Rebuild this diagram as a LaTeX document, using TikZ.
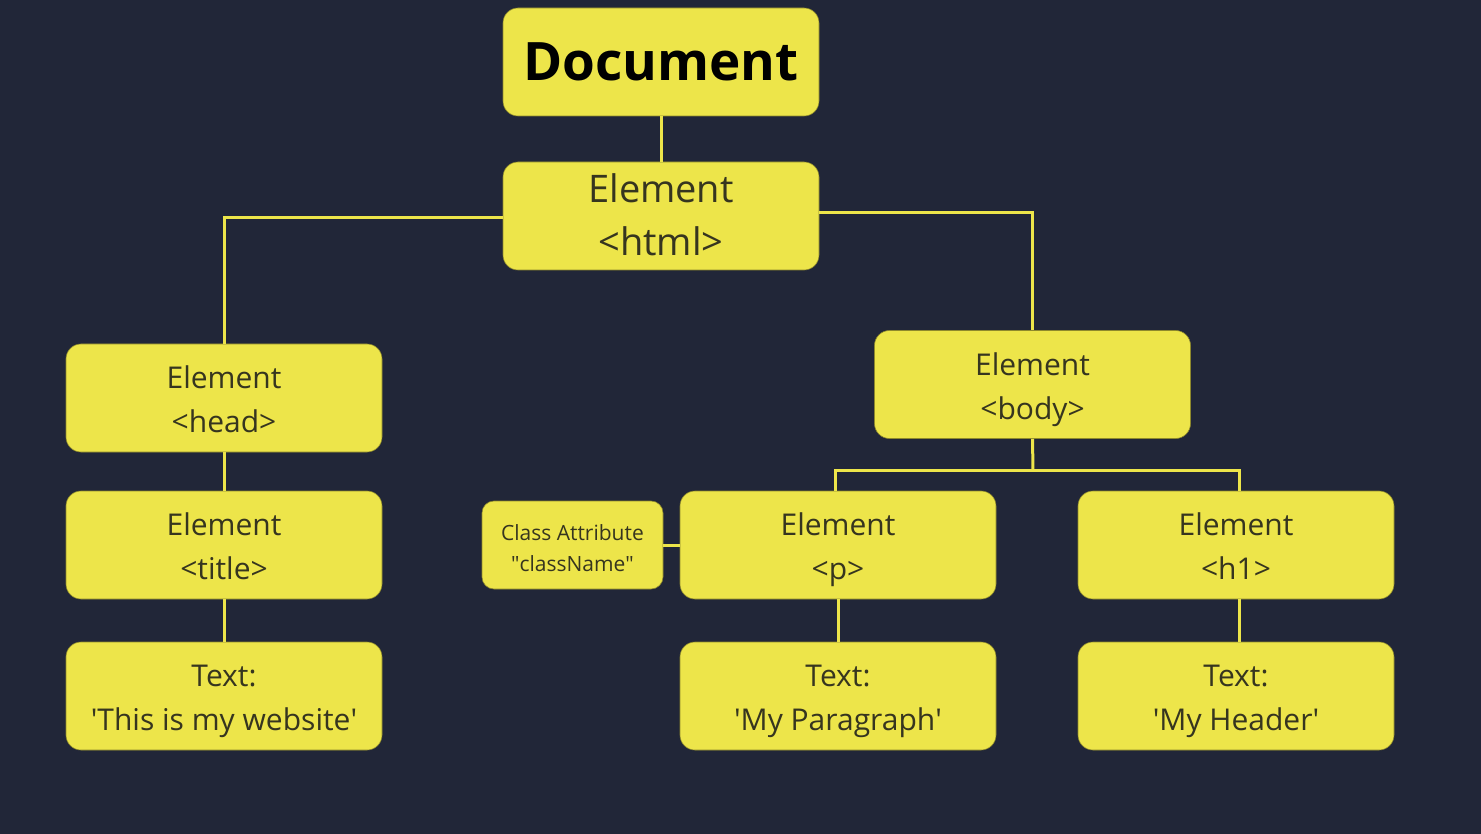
\documentclass[tikz,border=0pt]{standalone}
\usepackage{fontspec}
\setmainfont{Open Sans}
\definecolor{bg}{HTML}{212638}
\definecolor{ylw}{HTML}{EDE54A}
\definecolor{txt}{HTML}{36351F}
\newcommand\ph{\vphantom{Ely(}}
\newcommand\phtop[1]{\rule{0pt}{#1em}}
\newcommand\sq{\textquotesingle}
\newcommand\dq{\textquotedbl}
\tikzset{
  box/.style={rounded corners=15pt, fill=ylw, draw=ylw!60!black, line width=0.6pt,
    minimum width=316pt, minimum height=108pt, align=center, inner sep=0pt,
    text=txt, font=\fontsize{30}{44}\selectfont},
  conn/.style={draw=ylw, line width=3pt}
}
\begin{document}
\begin{tikzpicture}[x=1pt,y=-1pt]
\fill[bg] (0,0) rectangle (1481,834);
\useasboundingbox (0,0) rectangle (1481,834);
\node[box, font=\fontsize{53}{60}\bfseries\selectfont, text=black] (doc) at (661,62) {Document};
\node[box, font=\fontsize{38}{53}\selectfont] (html) at (661,216) {\phtop{0.94}Element\\\ph{<}html{>}};
\node[box] (head) at (224,398) {\phtop{1.1}Element\\\ph{<}head{>}};
\node[box] (title) at (224,545) {\phtop{1.1}Element\\\ph{<}title{>}};
\node[box] (web) at (224,696) {\phtop{1.1}Text:\\\ph\sq This is my website\sq};
\node[box] (body) at (1032.5,384.5) {\phtop{1.1}Element\\\ph{<}body{>}};
\node[box] (p) at (838,545) {\phtop{1.1}Element\\\ph{<}p{>}};
\node[box] (h1) at (1236,545) {\phtop{1.1}Element\\\ph{<}h1{>}};
\node[box] (para) at (838,696) {\phtop{1.1}Text:\\\ph\sq My Paragraph\sq};
\node[box] (hdr) at (1236,696) {\phtop{1.1}Text:\\\ph\sq My Header\sq};
\node[box, minimum width=181pt, minimum height=88pt, rounded corners=12pt,
  font=\fontsize{21}{31}\selectfont] (cls) at (572.5,545) {\phtop{1.24}Class Attribute\\\ph\dq className\dq};
\coordinate (bj) at (1033,470);
\draw[conn] (doc.south) -- (html.north);
\draw[conn] ([yshift=-2pt]html.west) -- ([yshift=-2pt]html.west -| head.north) -- (head.north);
\draw[conn] ([yshift=3pt]html.east) -- ([yshift=3pt]html.east -| body.north) -- (body.north);
\draw[conn] (head.south) -- (title.north);
\draw[conn] (title.south) -- (web.north);
\draw[conn] (body.south) -- (bj);
\draw[conn] ([xshift=-3pt]p.north) -- ([xshift=-3pt]p.north |- bj) -- ([xshift=3pt]h1.north |- bj) -- ([xshift=3pt]h1.north);
\draw[conn] (cls.east) -- (p.west);
\draw[conn] (p.south) -- (para.north);
\draw[conn] ([xshift=3pt]h1.south) -- ([xshift=3pt]hdr.north);
\end{tikzpicture}
\end{document}
